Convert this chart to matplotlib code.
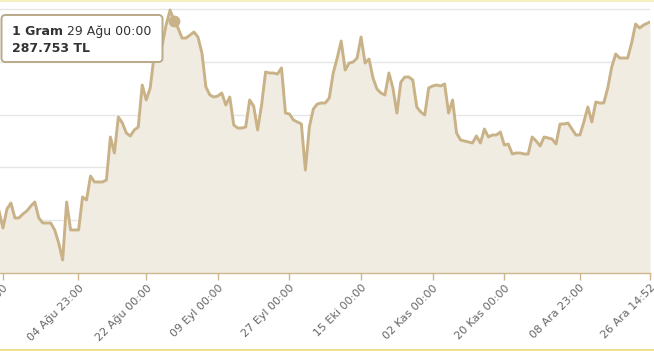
import numpy as np
import pandas as pd
import matplotlib
matplotlib.use("Agg")
import matplotlib.pyplot as plt
from matplotlib.patches import FancyBboxPatch
from matplotlib.lines import Line2D

# gram altın fiyatı (TL), günlük, 16 Tem 2019 - 26 Ara 2019
gold = [
    251.74, 248.52, 252.12, 253.26, 250.42, 250.42, 251.18, 251.74, 252.69, 253.45,
    250.42, 249.47, 249.47, 249.47, 248.15, 245.68, 242.46, 253.45, 248.15, 248.15,
    248.15, 254.40, 253.83, 258.37, 257.24, 257.24, 257.24, 257.62, 265.76, 262.73,
    269.55, 268.41, 266.52, 265.95, 267.08, 267.65, 275.61, 272.77, 275.04, 281.29,
    281.86, 283.18, 286.97, 289.81, 287.753, 286.40, 284.50, 284.50, 285.08, 285.64,
    284.70, 281.67, 275.23, 273.71, 273.33, 273.52, 274.09, 271.82, 273.33, 268.03,
    267.46, 267.46, 267.65, 272.77, 271.63, 267.08, 271.82, 278.07, 277.88, 277.88,
    277.69, 278.83, 270.30, 270.12, 268.98, 268.60, 268.22, 259.51, 267.65, 271.06,
    272.01, 272.20, 272.20, 273.14, 277.88, 280.72, 283.94, 278.45, 279.77, 279.96,
    280.72, 284.70, 279.77, 280.53, 276.93, 274.85, 274.09, 273.71, 277.88, 275.04,
    270.30, 276.17, 277.12, 277.12, 276.55, 271.44, 270.49, 269.92, 275.04, 275.42,
    275.61, 275.42, 275.80, 270.30, 272.77, 266.52, 265.19, 265.00, 264.81, 264.62,
    265.95, 264.62, 267.27, 265.76, 266.14, 266.14, 266.70, 264.24, 264.43, 262.54,
    262.73, 262.73, 262.54, 262.54, 265.76, 265.00, 264.05, 265.76, 265.57, 265.38,
    264.43, 268.22, 268.22, 268.41, 267.27, 266.14, 266.14, 268.60, 271.44, 268.60,
    272.39, 272.20, 272.20, 275.04, 279.02, 281.48, 280.72, 280.72, 280.72, 283.56,
    287.16, 286.40, 286.97, 287.54,
]
dates = list(pd.date_range("2019-07-16", "2019-12-25", freq="D")) + [pd.Timestamp("2019-12-26 14:52")]

tick_times = ["2019-07-17 00:00", "2019-08-04 23:00", "2019-08-22 00:00", "2019-09-09 00:00",
              "2019-09-27 00:00", "2019-10-15 00:00", "2019-11-02 00:00", "2019-11-20 00:00",
              "2019-12-08 23:00", "2019-12-26 14:52"]
tick_labels = ["17 Tem 00:00", "04 Ağu 23:00", "22 Ağu 00:00", "09 Eyl 00:00", "27 Eyl 00:00",
               "15 Eki 00:00", "02 Kas 00:00", "20 Kas 00:00", "08 Ara 23:00", "26 Ara 14:52"]

hl_idx = 44  # 29 Ağu
hl_name = "1 Gram"
hl_date = "29 Ağu 00:00"

line_c = "#c9b287"
fill_c = "#f1ece2"

W, H = 654, 351
fig = plt.figure(figsize=(W / 100, H / 100), dpi=100)
ax = fig.add_axes([0, 78 / H, 650 / W, 271 / H])

ax.fill_between(dates, gold, 240, color=fill_c, lw=0, zorder=1)
ax.plot(dates, gold, color=line_c, lw=2.1, solid_joinstyle="round", zorder=3)
ax.plot(dates[hl_idx], gold[hl_idx], "o", color=line_c, ms=7.5, zorder=4)

ax.set_xlim(pd.Timestamp("2019-07-16 06:00"), dates[-1])
ax.set_ylim(240, 291.33)
ax.set_yticks([250, 260, 270, 280, 290])
ax.yaxis.grid(True, color="#e6e6e6", lw=1)
ax.set_axisbelow(True)
ax.tick_params(axis="y", length=0, labelleft=False)

for s in ["left", "right", "top"]:
    ax.spines[s].set_visible(False)
ax.spines["bottom"].set_color("#ccb68a")
ax.spines["bottom"].set_linewidth(1)
ax.spines["bottom"].set_zorder(5)

ax.set_xticks(pd.to_datetime(tick_times))
ax.set_xticklabels(tick_labels, rotation=45, ha="right", va="top", rotation_mode="anchor")
ax.tick_params(axis="x", color="#ccb68a", length=5, width=1, labelcolor="#666666",
               labelsize=8, pad=2)

# tooltip
tr = fig.dpi_scale_trans
box = FancyBboxPatch((1.5 / 100, (H - 62) / 100), 161 / 100, 47 / 100,
                     boxstyle="round,pad=0,rounding_size=0.04", transform=tr,
                     facecolor="white", edgecolor="#b9aa88", lw=1.4, zorder=10)
fig.add_artist(box)
fig.text(12 / 100, (H - 35) / 100, hl_name, transform=tr, fontsize=9, fontweight="bold",
         color="#333333", zorder=11)
fig.text(67 / 100, (H - 35) / 100, hl_date, transform=tr, fontsize=9, color="#333333",
         zorder=11)
fig.text(12 / 100, (H - 52) / 100, f"{gold[hl_idx]:.3f} TL", transform=tr, fontsize=9,
         fontweight="bold", color="#333333", zorder=11)

# ince sarı çerçeve çizgileri
fig.add_artist(Line2D([0, 1], [1 - 0.8 / H] * 2, transform=fig.transFigure, color="#f8efc0", lw=1.5))
fig.add_artist(Line2D([0, 1], [1.5 / H] * 2, transform=fig.transFigure, color="#f2e08f", lw=1.5))

fig.savefig("out.png", dpi=100)
